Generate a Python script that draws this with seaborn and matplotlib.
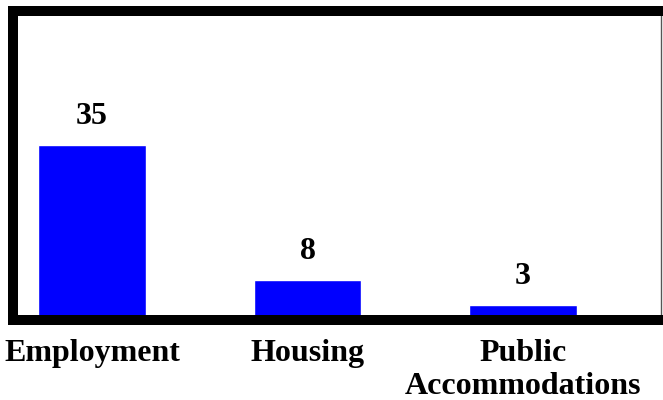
import matplotlib
matplotlib.use('Agg')
import matplotlib.pyplot as plt
import seaborn as sns
import pandas as pd

# Chart data
categories = ['Employment', 'Housing', 'Public\nAccommodations']
counts = [35, 8, 3]

df = pd.DataFrame({'category': categories, 'count': counts})

sns.set_style('white')
plt.rcParams['font.family'] = ['Liberation Serif', 'DejaVu Serif']
plt.rcParams['text.color'] = 'black'
plt.rcParams['xtick.color'] = 'black'

fig = plt.figure(figsize=(6.63, 4.0), dpi=100)
ax = fig.add_axes([13 / 663, (400 - 319.5) / 400, (661 - 13) / 663, (319.5 - 11) / 400])

sns.barplot(data=df, x='category', y='count', color='#0000FF', width=0.5,
            saturation=1, ax=ax)

for c in ax.containers:
    ax.bar_label(c, padding=10, fontsize=23, fontweight='bold', color='black')

ax.set_ylim(0, 62)
ax.set_xlim(-0.367, 2.64)
ax.set_xlabel('')
ax.set_ylabel('')
ax.set_yticks([])
ax.tick_params(axis='x', length=0, pad=14, labelsize=23, labelcolor='black')
for lbl in ax.get_xticklabels():
    lbl.set_fontweight('bold')

for side in ['left', 'top', 'bottom']:
    ax.spines[side].set_linewidth(7.2)
    ax.spines[side].set_color('black')
ax.spines['right'].set_linewidth(1.0)
ax.spines['right'].set_color('#555555')

fig.savefig('out.png', dpi=100)
